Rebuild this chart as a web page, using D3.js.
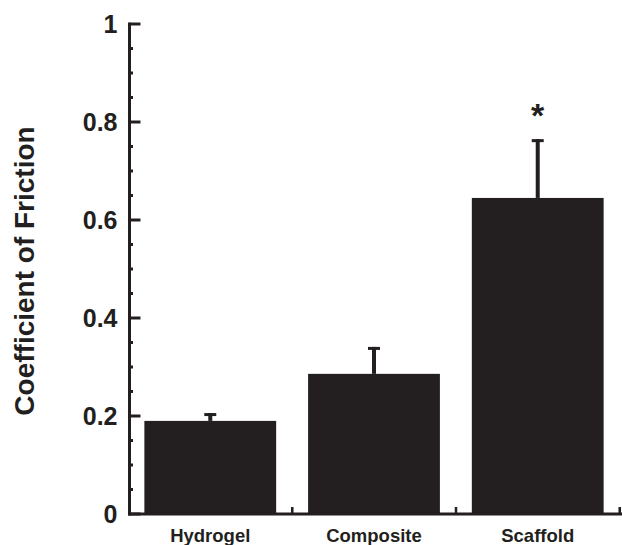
<!DOCTYPE html>
<html>
<head>
<meta charset="utf-8">
<script src="https://cdn.jsdelivr.net/npm/d3@7"></script>
<style>
  body { margin: 0; background: #fff; }
  svg text { font-family: "Liberation Sans", Arial, sans-serif; font-weight: bold; fill: #231f20; }
</style>
</head>
<body>
<svg id="chart" width="622" height="545"></svg>
<script>
// values
var categories = ["Hydrogel", "Composite", "Scaffold"];
var means = [0.19, 0.286, 0.645];
var errTop = [0.206, 0.341, 0.765];
var stars = ["", "", "*"];
var yTicks = [0, 0.2, 0.4, 0.6, 0.8, 1];
var yMinor = [0.05, 0.1, 0.15, 0.25, 0.3, 0.35, 0.45, 0.5, 0.55, 0.65, 0.7, 0.75, 0.85, 0.9, 0.95];

var ink = "#231f20";
var svg = d3.select("#chart");
var plotLeft = 129.5, plotTop = 24, plotBottom = 514;

var x = d3.scaleBand()
    .domain(categories)
    .range([128, 620])
    .paddingInner(0.195)
    .paddingOuter(0.1);
// band boundaries (ticks between categories)
var step = (620 - 128) / categories.length;

var y = d3.scaleLinear().domain([0, 1]).range([plotBottom, plotTop]);

// bars
svg.selectAll("rect.bar")
    .data(categories)
    .enter().append("rect")
    .attr("class", "bar")
    .attr("x", function(d) { return x(d); })
    .attr("width", x.bandwidth())
    .attr("y", function(d, i) { return y(means[i]); })
    .attr("height", function(d, i) { return y(0) - y(means[i]); })
    .attr("fill", ink);

// error bars
svg.selectAll("line.err")
    .data(categories)
    .enter().append("line")
    .attr("x1", function(d) { return x(d) + x.bandwidth() / 2; })
    .attr("x2", function(d) { return x(d) + x.bandwidth() / 2; })
    .attr("y1", function(d, i) { return y(means[i]); })
    .attr("y2", function(d, i) { return y(errTop[i]); })
    .attr("stroke", ink)
    .attr("stroke-width", 4);
svg.selectAll("line.cap")
    .data(categories)
    .enter().append("line")
    .attr("x1", function(d) { return x(d) + x.bandwidth() / 2 - 6; })
    .attr("x2", function(d) { return x(d) + x.bandwidth() / 2 + 6; })
    .attr("y1", function(d, i) { return y(errTop[i]) + 1.5; })
    .attr("y2", function(d, i) { return y(errTop[i]) + 1.5; })
    .attr("stroke", ink)
    .attr("stroke-width", 3);

// significance marks
svg.selectAll("text.star")
    .data(categories)
    .enter().append("text")
    .attr("x", function(d) { return x(d) + x.bandwidth() / 2; })
    .attr("y", function(d, i) { return y(errTop[i]) - 12; })
    .attr("text-anchor", "middle")
    .style("font-size", "34px")
    .text(function(d, i) { return stars[i]; });

// y axis
var yAxis = svg.append("g").attr("transform", "translate(" + plotLeft + ",0)");
yAxis.append("line")
    .attr("x1", 0).attr("x2", 0)
    .attr("y1", y(1) - 1.5).attr("y2", y(0) + 1.5)
    .attr("stroke", ink).attr("stroke-width", 3);
yAxis.selectAll("line.major")
    .data(yTicks).enter().append("line")
    .attr("x1", 0).attr("x2", 11)
    .attr("y1", function(d) { return y(d); })
    .attr("y2", function(d) { return y(d); })
    .attr("stroke", ink).attr("stroke-width", 3);
yAxis.selectAll("line.minor")
    .data(yMinor).enter().append("line")
    .attr("x1", 0).attr("x2", 3.5)
    .attr("y1", function(d) { return y(d); })
    .attr("y2", function(d) { return y(d); })
    .attr("stroke", ink).attr("stroke-width", 3);
yAxis.selectAll("text")
    .data(yTicks).enter().append("text")
    .attr("x", -12)
    .attr("y", function(d) { return y(d); })
    .attr("dy", "0.36em")
    .attr("text-anchor", "end")
    .style("font-size", "25px")
    .text(function(d) { return d3.format("")(d); });

// x axis
var xAxis = svg.append("g").attr("transform", "translate(0," + plotBottom + ")");
xAxis.append("line")
    .attr("x1", plotLeft - 1.5).attr("x2", 622)
    .attr("y1", 0).attr("y2", 0)
    .attr("stroke", ink).attr("stroke-width", 3);
xAxis.selectAll("line.tick")
    .data(categories).enter().append("line")
    .attr("x1", function(d) { return x(d) + x.bandwidth() / 2 + step / 2; })
    .attr("x2", function(d) { return x(d) + x.bandwidth() / 2 + step / 2; })
    .attr("y1", 0).attr("y2", -7)
    .attr("stroke", ink).attr("stroke-width", 2.5);
xAxis.selectAll("text")
    .data(categories).enter().append("text")
    .attr("x", function(d) { return x(d) + x.bandwidth() / 2; })
    .attr("y", 27.5)
    .attr("text-anchor", "middle")
    .style("font-size", "18.5px")
    .text(function(d) { return d; });

// y title
svg.append("text")
    .attr("transform", "translate(33.5,271) rotate(-90)")
    .attr("text-anchor", "middle")
    .style("font-size", "28px")
    .text("Coefficient of Friction");
</script>
</body>
</html>
